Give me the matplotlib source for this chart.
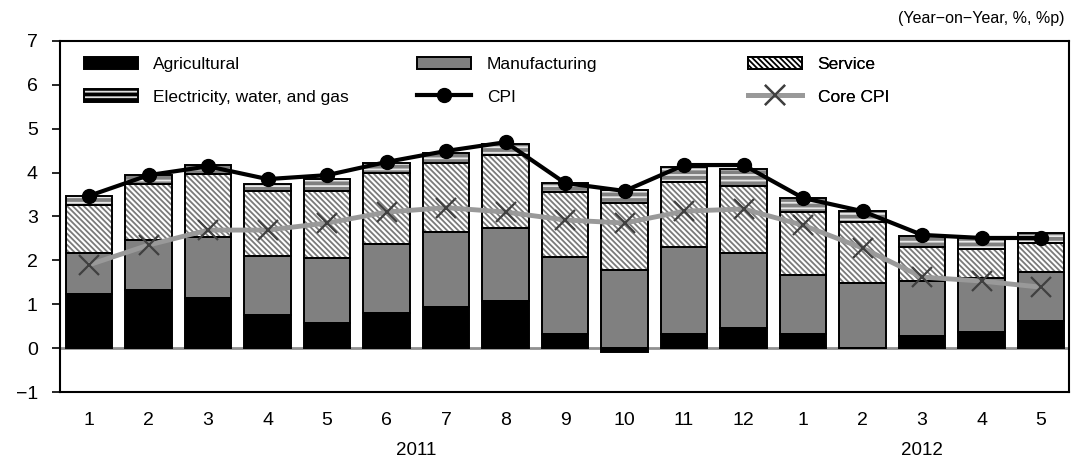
import matplotlib; matplotlib.use('agg')
import matplotlib.pyplot as plt
from matplotlib.patches import Patch
from matplotlib.lines import Line2D
from matplotlib.legend_handler import HandlerTuple
import numpy as np

plt.rcParams['font.family'] = ['Liberation Sans', 'DejaVu Sans']
plt.rcParams['hatch.linewidth'] = 1.3

months = ['1', '2', '3', '4', '5', '6', '7', '8', '9', '10', '11', '12',
          '1', '2', '3', '4', '5']
years = ['2011', '2012']

agricultural = [1.23, 1.33, 1.14, 0.75, 0.57, 0.81, 0.95, 1.08, 0.33, -0.08,
                0.33, 0.47, 0.33, 0.00, 0.28, 0.37, 0.61]
manufacturing = [0.93, 1.13, 1.40, 1.36, 1.49, 1.56, 1.69, 1.66, 1.74, 1.78,
                 1.97, 1.69, 1.34, 1.49, 1.26, 1.24, 1.12]
service = [1.10, 1.28, 1.43, 1.48, 1.53, 1.61, 1.57, 1.66, 1.48, 1.53,
           1.49, 1.53, 1.44, 1.38, 0.77, 0.64, 0.66]
electricity = [0.21, 0.20, 0.21, 0.15, 0.26, 0.24, 0.23, 0.25, 0.21, 0.29,
               0.34, 0.38, 0.30, 0.26, 0.25, 0.25, 0.23]
cpi = [3.47, 3.94, 4.14, 3.85, 3.94, 4.24, 4.49, 4.69, 3.76, 3.58,
       4.17, 4.17, 3.42, 3.12, 2.58, 2.51, 2.51]
core_cpi = [1.90, 2.35, 2.69, 2.69, 2.85, 3.10, 3.20, 3.10, 2.92, 2.85,
            3.12, 3.17, 2.80, 2.28, 1.62, 1.53, 1.39]

x = np.arange(1, len(months) + 1)
w = 0.78

fig = plt.figure(figsize=(10.71, 4.66), dpi=100)
ax = fig.add_axes([60/1071, 1 - 392.2/466, 1009/1071, 351.5/466])

ax.axhline(0, color='#909090', lw=2, zorder=1)

# (values, face, hatch, hatch colour)
series = [
    (agricultural, 'black', None, 'black'),
    (manufacturing, '#808080', None, '#808080'),
    (service, 'white', '\\' * 6, '#7a7a7a'),
    (electricity, '#808080', '---', '#e8e8e8'),
]
pos_bottom = np.zeros(len(x))
neg_bottom = np.zeros(len(x))
for vals, face, hatch, hcol in series:
    vals = np.array(vals)
    bottom = np.where(vals >= 0, pos_bottom, neg_bottom)
    ax.bar(x, vals, w, bottom=bottom, color=face, edgecolor=hcol,
           hatch=hatch, lw=0, zorder=2)
    ax.bar(x, vals, w, bottom=bottom, fill=False, edgecolor='black',
           lw=1.4, zorder=3)
    pos_bottom = pos_bottom + np.clip(vals, 0, None)
    neg_bottom = neg_bottom + np.clip(vals, None, 0)

ax.plot(x, core_cpi, color='#999999', lw=3.5, zorder=4)
ax.plot(x, core_cpi, ls='none', marker='x', ms=15, mew=1.6,
        color='#404040', zorder=5)
ax.plot(x, cpi, color='black', lw=3, marker='o', ms=10, zorder=6)

ax.set_xlim(0.51, 17.47)
ax.set_ylim(-1, 7)
ax.set_yticks(range(-1, 8))
ax.set_yticklabels(['\u22121'] + [str(i) for i in range(0, 8)])
ax.set_xticks(x)
ax.set_xticklabels(months)
ax.tick_params(axis='y', length=6, width=1.2, labelsize=14, pad=10)
ax.tick_params(axis='x', length=0, labelsize=14, pad=14)
for s in ax.spines.values():
    s.set_linewidth(1.5)

tr = ax.get_xaxis_transform()
ax.text(6.5, -0.167, years[0], transform=tr, ha='center', va='center', fontsize=13.5)
ax.text(15, -0.167, years[1], transform=tr, ha='center', va='center', fontsize=13.5)
fig.text(1065/1071, 1 - 18/466, '(Year\u2212on\u2212Year, %, %p)', ha='right',
         va='center', fontsize=11.5)

def fill_handle(face, hatch, hcol):
    return (Patch(facecolor=face, edgecolor=hcol, hatch=hatch, lw=0),
            Patch(fill=False, edgecolor='black', lw=1.4))

cols = [
    ([fill_handle('black', None, 'black'),
      fill_handle('black', '---', '#e0e0e0')],
     ['Agricultural', 'Electricity, water, and gas'], 0.0238),
    ([fill_handle('#808080', None, '#808080'),
      Line2D([], [], color='black', lw=3, marker='o', ms=10)],
     ['Manufacturing', 'CPI'], 0.354),
    ([fill_handle('white', '\\' * 6, 'black'),
      (Line2D([], [], color='#999999', lw=3.5),
       Line2D([], [], ls='none', marker='x', ms=15, mew=1.6, color='#404040'))],
     ['Service', 'Core CPI'], 0.682),
]
for handles, labels, xpos in cols:
    leg = ax.legend(handles, labels, loc='upper left', bbox_to_anchor=(xpos, 0.955),
                    frameon=False, borderpad=0, borderaxespad=0, fontsize=12.5,
                    handlelength=3.1, handleheight=0.75, handletextpad=0.9,
                    labelspacing=1.0,
                    handler_map={tuple: HandlerTuple(ndivide=1)})
    ax.add_artist(leg)

fig.savefig('out.png', dpi=100)
